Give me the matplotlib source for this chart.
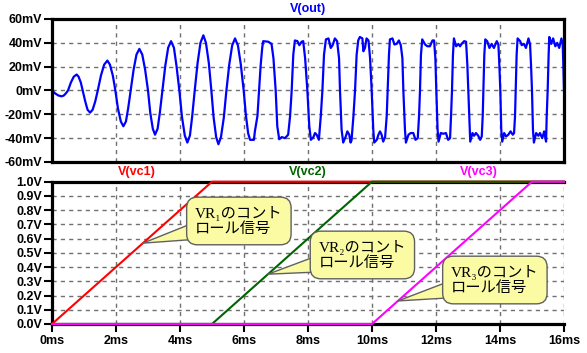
import matplotlib
matplotlib.use("Agg")
import matplotlib.pyplot as plt

# V(out) waveform (time in ms, value in mV)
t_out = [
    0.00, 0.10, 0.20, 0.30, 0.37, 0.43, 0.50, 0.59, 0.68, 0.77, 0.83, 0.90,
    0.96, 1.04, 1.11, 1.19, 1.27, 1.35, 1.43, 1.53, 1.63, 1.73, 1.81, 1.90,
    1.98, 2.06, 2.15, 2.23, 2.31, 2.38, 2.46, 2.55, 2.64, 2.73, 2.82, 2.91,
    3.00, 3.07, 3.15, 3.22, 3.30, 3.37, 3.45, 3.54, 3.63, 3.72, 3.81, 3.89,
    3.98, 4.06, 4.15, 4.23, 4.31, 4.38, 4.46, 4.55, 4.64, 4.73, 4.81, 4.90,
    4.98, 5.05, 5.13, 5.20, 5.28, 5.37, 5.45, 5.54, 5.63, 5.72, 5.81, 5.90,
    5.99, 6.06, 6.13, 6.19, 6.31, 6.34, 6.42, 6.47, 6.52, 6.57, 6.60, 6.76, 6.86,
    6.92, 6.99, 7.04, 7.10, 7.18, 7.28, 7.38, 7.44, 7.49, 7.54, 7.59,
    7.67, 7.73, 7.80, 7.85, 7.91, 7.98, 8.04, 8.09, 8.17, 8.22, 8.27, 8.34,
    8.40, 8.45, 8.50, 8.56, 8.64, 8.71, 8.77, 8.84, 8.91,
    8.97, 9.00, 9.05, 9.10, 9.18, 9.23, 9.29, 9.33, 9.36,
    9.42, 9.47, 9.52, 9.57, 9.62, 9.70, 9.73, 9.78, 9.83, 9.89,
    9.94, 9.99, 10.04, 10.07, 10.15, 10.20, 10.25, 10.30, 10.35, 10.41,
    10.46, 10.49, 10.53, 10.56, 10.64, 10.70, 10.77, 10.84, 10.90,
    10.95, 10.98, 11.03, 11.06, 11.14, 11.21, 11.29, 11.36, 11.43,
    11.47, 11.50, 11.53, 11.57, 11.66, 11.73, 11.81, 11.89, 11.94,
    11.98, 12.01, 12.05, 12.08, 12.15, 12.23, 12.31, 12.38, 12.44,
    12.47, 12.50, 12.53, 12.56, 12.63, 12.70, 12.75, 12.80, 12.88, 12.94,
    12.98, 13.01, 13.04, 13.07, 13.14, 13.19, 13.25, 13.32, 13.38, 13.43,
    13.46, 13.48, 13.51, 13.54, 13.60, 13.67, 13.74, 13.81, 13.90, 13.95,
    13.98, 14.01, 14.04, 14.07, 14.13, 14.19, 14.26, 14.33, 14.40, 14.44,
    14.47, 14.49, 14.52, 14.55, 14.63, 14.68, 14.75, 14.81, 14.89, 14.94,
    14.97, 15.00, 15.03, 15.06, 15.13, 15.20, 15.25, 15.32, 15.38, 15.44,
    15.46, 15.49, 15.52, 15.54, 15.60, 15.66, 15.73, 15.79, 15.85, 15.92, 15.96,
    15.98, 16.00,
]
v_out = [
    0.0, -2.5, -4.2, -4.9, -4.2, -2.5, 0.0, 6.7, 11.6, 13.4, 11.6, 6.7,
    0.0, -9.3, -16.1, -18.6, -16.1, -9.3, 0.0, 12.6, 21.7, 25.1, 21.7, 12.6,
    0.0, -15.0, -26.0, -30.0, -26.0, -15.0, 0.0, 17.5, 30.2, 34.9, 30.2, 17.5,
    0.0, -18.6, -32.1, -37.1, -32.1, -18.6, 0.0, 20.7, 35.9, 41.4, 35.9, 20.7,
    0.0, -21.9, -37.8, -43.7, -37.8, -21.9, 0.0, 23.2, 40.1, 46.3, 40.1, 23.2,
    0.0, -22.6, -39.1, -45.1, -39.1, -22.6, 0.0, 21.9, 37.8, 43.7, 37.8, 21.9,
    0.0, -21.0, -36.0, -41.4, -41.4, -34.3, -21.4, 0.0, 21.0, 36.0, 41.4, 40.9, 39.1,
    27.1, 0.0, -30.0, -40.9, -39.1, -40.0, -37.1, -21.4, 0.0, 30.0, 42.0,
    41.4, 38.0, 40.9, 41.4, 27.1, 0.0, -30.0, -41.4, -39.1, -35.7, -37.1, -41.4,
    -21.4, 0.0, 30.0, 42.9, 43.7, 35.7, 38.0, 43.7, 41.4,
    27.1, 0.0, -32.9, -43.7, -38.6, -34.3, -37.1, -43.7, -42.0,
    -21.4, 0.0, 30.0, 42.0, 44.9, 43.7, 32.9, 35.7, 43.7, 42.0,
    27.1, 0.0, -32.9, -43.7, -41.4, -37.1, -34.3, -37.1, -42.9, -39.1,
    -21.4, 0.0, 30.0, 42.9, 43.7, 38.6, 39.1, 42.0, 38.0,
    27.1, 0.0, -32.9, -43.7, -37.1, -35.7, -35.7, -41.4, -40.0,
    -21.4, 0.0, 30.0, 42.9, 38.6, 37.1, 37.1, 42.0, 42.0,
    27.1, 0.0, -32.9, -42.9, -35.7, -36.3, -35.7, -41.4, -40.0,
    -21.4, 0.0, 30.0, 43.7, 37.1, 39.1, 37.1, 39.1, 41.4, 40.9,
    21.4, 0.0, -21.4, -42.9, -35.7, -38.0, -35.7, -38.0, -41.4, -38.6,
    -21.4, 0.0, 30.0, 42.9, 41.4, 35.7, 39.1, 35.7, 41.4, 38.6,
    21.4, 0.0, -32.9, -42.9, -35.7, -38.6, -37.1, -34.3, -37.1, -35.7,
    -21.4, 0.0, 30.0, 43.7, 41.4, 38.0, 39.1, 35.7, 43.7, 38.6,
    21.4, 0.0, -32.9, -43.7, -35.7, -38.0, -35.7, -40.0, -34.3, -42.9,
    -21.4, 0.0, 30.0, 44.9, 39.1, 43.7, 37.1, 40.0, 35.7, 43.7, 38.6,
    21.4, 0.0,
]
assert len(t_out) == len(v_out)

# control voltages (ms, V)
t_vc = [0, 5, 10, 15, 16]
vc1 = [0, 1, 1, 1, 1]
vc2 = [0, 0, 1, 1, 1]
vc3 = [0, 0, 0, 1, 1]

out_ticks = [-60, -40, -20, 0, 20, 40, 60]
vc_ticks = [0.0, 0.1, 0.2, 0.3, 0.4, 0.5, 0.6, 0.7, 0.8, 0.9, 1.0]
time_ticks = [0, 2, 4, 6, 8, 10, 12, 14, 16]

# callouts: (text, tip time, tip value, box time, box value)
notes = [
    ("VR\u2081のコント\nロール信号", 2.84, 0.568, 5.84, 0.724),
    ("VR\u2082のコント\nロール信号", 6.75, 0.35, 9.70, 0.485),
    ("VR\u2083のコント\nロール信号", 10.81, 0.162, 13.84, 0.309),
]

LBL = dict(family="Liberation Sans", fontweight="bold", fontsize=9)

fig = plt.figure(figsize=(5.87, 3.53), dpi=100)
ax1 = fig.add_axes([0.0886, 0.5411, 0.8722, 0.4051])
ax2 = fig.add_axes([0.0886, 0.0822, 0.8722, 0.4031])

grid = dict(color="#707070", linestyle=(0, (3, 3)), linewidth=1)

# upper panel
ax1.plot(t_out, v_out, color="#0000ff", linewidth=1.6)
ax1.set_xlim(0, 16)
ax1.set_ylim(-60, 60)
ax1.set_yticks(out_ticks)
ax1.set_yticklabels(["%dmV" % v for v in out_ticks], **LBL)
ax1.set_xticks(time_ticks)
ax1.set_xticklabels([])
ax1.tick_params(axis="x", length=0)
ax1.tick_params(axis="y", length=6, width=1.5, pad=1)
ax1.grid(True, **grid)
for s in ax1.spines.values():
    s.set_linewidth(2.3)
ax1.annotate("V(out)", xy=(0.5, 1), xycoords="axes fraction", xytext=(0, 7),
             textcoords="offset points", ha="center", va="center",
             color="#0000ff", **LBL)

# lower panel
ax2.plot(t_vc, vc1, color="#ff0000", linewidth=1.5, clip_on=False, zorder=3)
ax2.plot(t_vc, vc2, color="#006400", linewidth=1.5, clip_on=False, zorder=3)
ax2.plot(t_vc, vc3, color="#ff00ff", linewidth=1.5, clip_on=False, zorder=3)
ax2.set_xlim(0, 16)
ax2.set_ylim(0, 1)
ax2.set_yticks(vc_ticks)
ax2.set_yticklabels(["%.1fV" % v for v in vc_ticks], **LBL)
ax2.set_xticks(time_ticks)
ax2.set_xticklabels(["%dms" % t for t in time_ticks], **LBL)
ax2.tick_params(length=6, width=1.5, pad=1)
ax2.tick_params(axis="x", pad=2)
ax2.grid(True, **grid)
for s in ax2.spines.values():
    s.set_linewidth(2.3)
ax2.spines["right"].set_visible(False)

titles = [("V(vc1)", "#ff0000"), ("V(vc2)", "#006400"), ("V(vc3)", "#ff00ff")]
for i, (txt, col) in enumerate(titles):
    ax2.annotate(txt, xy=((2 * i + 1) / 6, 1), xycoords="axes fraction",
                 xytext=(0, 7), textcoords="offset points", ha="center",
                 va="center", color=col, **LBL)

for txt, tx, ty, bx, by in notes:
    ax2.annotate(txt, xy=(tx, ty), xytext=(bx, by), ha="center", va="center",
                 multialignment="left", fontsize=11, linespacing=1.2,
                 family=["Liberation Serif", "DejaVu Serif", "Noto Sans CJK JP"],
                 bbox=dict(boxstyle="round,pad=0.55,rounding_size=0.7",
                           fc="#fbfba4", ec="#606060", lw=1),
                 arrowprops=dict(arrowstyle="wedge,tail_width=2.0,shrink_factor=0.5",
                                 fc="#fbfba4", ec="#606060", lw=1,
                                 shrinkA=0, shrinkB=0, patchA=None),
                 zorder=5)

fig.savefig("out.png", dpi=100)
